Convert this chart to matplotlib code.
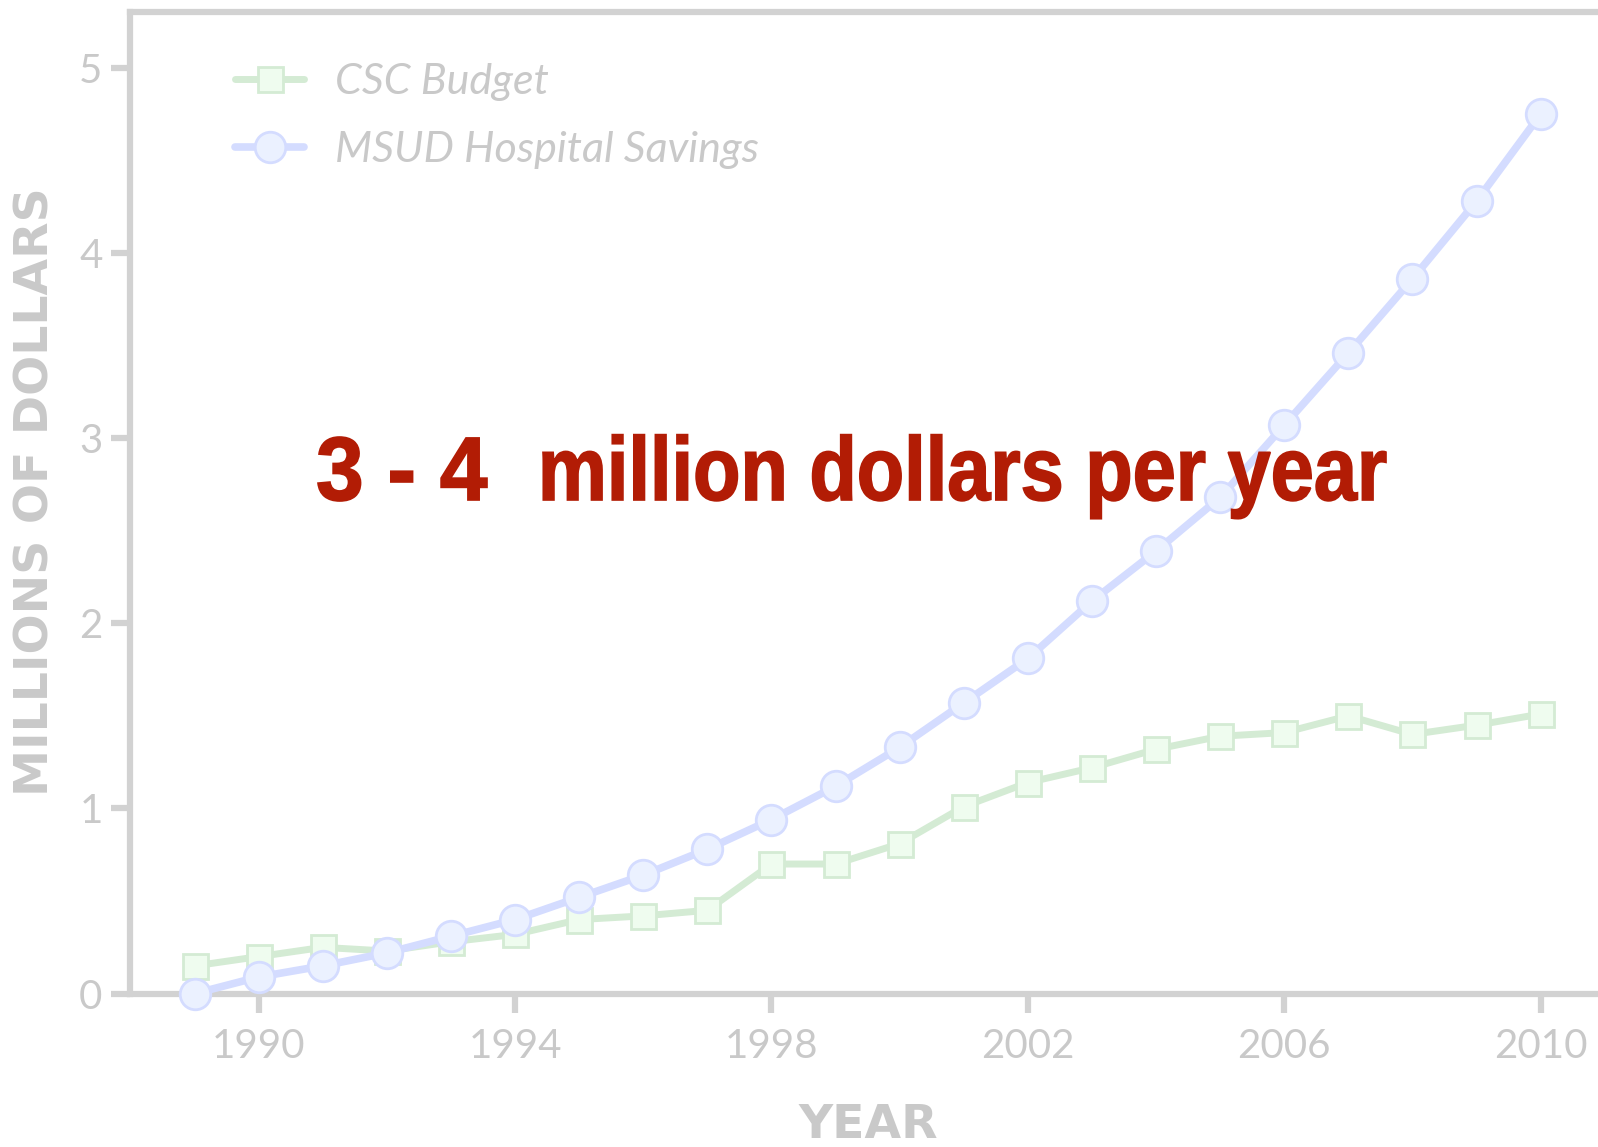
import numpy as np
import matplotlib.pyplot as plt
from matplotlib.textpath import TextPath
from matplotlib.patches import PathPatch
from matplotlib.font_manager import FontProperties
from matplotlib.transforms import Affine2D

# yearly figures, millions of dollars
years = list(range(1989, 2011))
csc_budget = [0.15, 0.20, 0.25, 0.23, 0.28, 0.32, 0.40, 0.42, 0.45, 0.70, 0.70,
              0.81, 1.01, 1.14, 1.22, 1.32, 1.39, 1.41, 1.50, 1.40, 1.45, 1.51]
msud_savings = [0.00, 0.09, 0.15, 0.22, 0.31, 0.40, 0.52, 0.64, 0.78, 0.94, 1.12,
                1.33, 1.57, 1.81, 2.12, 2.39, 2.68, 3.07, 3.46, 3.86, 4.28, 4.75]
x_ticks = [1990, 1994, 1998, 2002, 2006, 2010]
y_ticks = [0, 1, 2, 3, 4, 5]
headline = ['3 - 4', 'million dollars per year']

grey = '#d2d2d2'
text_grey = '#c9c9c9'
green_line, green_face = '#d4ebd4', '#effcef'
blue_line, blue_face = '#d4dcff', '#ebf1ff'
red = '#b21c05'

plt.rcParams['font.family'] = ['Lato', 'DejaVu Sans']

fig = plt.figure(figsize=(15.98, 11.47), dpi=100)
ax = fig.add_axes([0.0816, 0.1337, 0.9427, 0.8556])

ax.plot(years, csc_budget, color=green_line, lw=5, marker='s', ms=18,
        mfc=green_face, mec=green_line, mew=2, solid_capstyle='round',
        label='CSC Budget', zorder=3)
ax.plot(years, msud_savings, color=blue_line, lw=5.5, marker='o', ms=22,
        mfc=blue_face, mec=blue_line, mew=2, solid_capstyle='round',
        label='MSUD Hospital Savings', zorder=4, clip_on=False)

ax.set_xlim(1988, 2011.5)
ax.set_ylim(0, 5.3)

for side in ['left', 'top', 'bottom']:
    ax.spines[side].set_color(grey)
    ax.spines[side].set_linewidth(4.5)
ax.spines['right'].set_visible(False)

ax.set_xticks(x_ticks)
ax.set_yticks(y_ticks)
ax.tick_params(axis='both', colors=grey, length=14, width=4.5,
               labelcolor=text_grey, labelsize=29)
ax.tick_params(axis='x', pad=11)
ax.tick_params(axis='y', pad=6)

ax.set_ylabel('MILLIONS OF DOLLARS', color=text_grey, fontsize=34,
              fontweight='heavy', fontfamily=['DejaVu Sans'])
ax.yaxis.set_label_coords(-0.0627, 0.512)
ax.yaxis.label.set_va('center')
ax.set_xlabel('YEAR', color=text_grey, fontsize=34,
              fontweight='heavy', fontfamily=['DejaVu Sans'])
ax.xaxis.set_label_coords(0.49, -0.134)
ax.xaxis.label.set_va('center')

leg = ax.legend(loc='upper left', bbox_to_anchor=(0.0695, 0.948),
                frameon=False, borderpad=0, borderaxespad=0,
                handlelength=1.6, handletextpad=0.72, labelspacing=0.7,
                prop={'size': 31, 'style': 'italic'})
for t in leg.get_texts():
    t.set_color(text_grey)

# condensed bold headline: squeeze bold outlines into fixed pixel spans
hp = FontProperties(family=['Liberation Sans', 'DejaVu Sans'], weight='bold')
cap = TextPath((0, 0), '3', size=1, prop=hp).get_extents().y1
base_px, cap_px = 1147 - 500, 63
spans = [(318, 487), (543, 1386)]
for part, (x0, x1) in zip(headline, spans):
    tp = TextPath((0, 0), part, size=1, prop=hp)
    ext = tp.get_extents()
    trans = (Affine2D().translate(-ext.x0, 0)
             .scale((x1 - x0) / ext.width, cap_px / cap)
             .translate(x0, base_px))
    fig.add_artist(PathPatch(tp, transform=trans, facecolor=red,
                             edgecolor=red, lw=1.2, zorder=6))

fig.savefig('out.png', dpi=100)
